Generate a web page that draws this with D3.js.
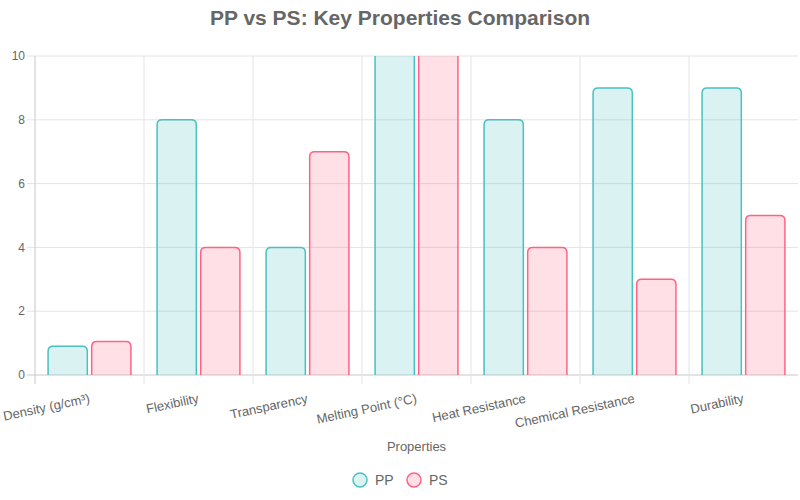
<!DOCTYPE html>
<html lang="en">
<head>
<meta charset="utf-8">
<title>PP vs PS: Key Properties Comparison</title>
<style>
  body { margin: 0; background: #fff; font-family: Arial, "Liberation Sans", Helvetica, sans-serif; }
  svg text { fill: #666; }
</style>
</head>
<body>
<svg id="chart" width="800" height="500"></svg>
<script src="https://cdnjs.cloudflare.com/ajax/libs/d3/7.8.5/d3.min.js"></script>
<script>
// data (melting point bars run past the axis max and are clipped)
var categories = ["Density (g/cm\u00b3)", "Flexibility", "Transparency", "Melting Point (\u00b0C)",
                  "Heat Resistance", "Chemical Resistance", "Durability"];
var seriesNames = ["PP", "PS"];
var ppValues = [0.9, 8, 4, 160, 8, 9, 9];
var psValues = [1.05, 4, 7, 240, 4, 3, 5];
var yTicks = [0, 2, 4, 6, 8, 10];

var colors = {
  PP: { fill: "rgba(75,192,192,0.2)", stroke: "rgb(75,192,192)" },
  PS: { fill: "rgba(255,99,132,0.2)", stroke: "rgb(255,99,132)" }
};

var w = 800, h = 500;
var padLeft = 35, padRight = 798, padTop = 56, padBottom = 375;

var svg = d3.select("#chart");

var x = d3.scaleBand().domain(categories).range([padLeft, padRight]).paddingInner(0).paddingOuter(0);
var x1 = d3.scaleBand().domain(seriesNames).range([0, x.bandwidth()]).paddingInner(0.1).paddingOuter(0.3);
var y = d3.scaleLinear().domain([0, 10]).range([padBottom, padTop]);

// grid
var grid = svg.append("g");
grid.selectAll("line.h").data(yTicks).enter().append("line")
  .attr("x1", padLeft - 8).attr("x2", padRight)
  .attr("y1", function(d) { return y(d); }).attr("y2", function(d) { return y(d); })
  .attr("stroke", function(d) { return d === 0 ? "#c8c8c8" : "#e4e4e4"; })
  .attr("stroke-width", 1);
grid.selectAll("line.v").data(categories).enter().append("line")
  .attr("x1", function(d) { return x(d); }).attr("x2", function(d) { return x(d); })
  .attr("y1", padTop).attr("y2", padBottom + 9)
  .attr("stroke", function(d, i) { return i === 0 ? "#c8c8c8" : "#e4e4e4"; })
  .attr("stroke-width", 1);

// bars
svg.append("clipPath").attr("id", "plotClip")
  .append("rect").attr("x", padLeft).attr("y", padTop).attr("width", padRight - padLeft).attr("height", padBottom - padTop);

var rows = categories.map(function(c, i) {
  return { cat: c, vals: [{ s: "PP", v: ppValues[i] }, { s: "PS", v: psValues[i] }] };
});

var r = 5;
function barPath(x0, x1p, y0, yb) {
  var rr = Math.min(r, (yb - y0) / 2, (x1p - x0) / 2);
  return "M" + x0 + "," + yb + "V" + (y0 + rr) + "Q" + x0 + "," + y0 + " " + (x0 + rr) + "," + y0 +
    "H" + (x1p - rr) + "Q" + x1p + "," + y0 + " " + x1p + "," + (y0 + rr) + "V" + yb;
}

var barG = svg.append("g").attr("clip-path", "url(#plotClip)");
barG.selectAll("g").data(rows).enter().append("g")
  .attr("transform", function(d) { return "translate(" + x(d.cat) + ",0)"; })
  .selectAll("path").data(function(d) { return d.vals; }).enter().append("path")
  .attr("d", function(d) {
    var bx = x1(d.s), bw = x1.bandwidth();
    return barPath(bx, bx + bw, y(d.v), padBottom);
  })
  .attr("fill", function(d) { return colors[d.s].fill; })
  .attr("stroke", function(d) { return colors[d.s].stroke; })
  .attr("stroke-width", 1.5);

// y axis labels
svg.append("g").selectAll("text").data(yTicks).enter().append("text")
  .attr("x", padLeft - 10).attr("y", function(d) { return y(d); })
  .attr("dy", "0.35em").attr("text-anchor", "end")
  .style("font-size", "12px")
  .text(function(d) { return d; });

// x axis labels, rotated
svg.append("g").selectAll("text").data(categories).enter().append("text")
  .attr("transform", function(d) {
    return "translate(" + (x(d) + x.bandwidth() / 2) + "," + (padBottom + 23) + ") rotate(-12)";
  })
  .attr("text-anchor", "end").attr("dy", "0.35em")
  .style("font-size", "13px")
  .text(function(d) { return d; });

// axis title
svg.append("text").attr("x", (padLeft + padRight) / 2).attr("y", 446)
  .attr("text-anchor", "middle").attr("dy", "0.35em")
  .style("font-size", "13px").text("Properties");

// title
svg.append("text").attr("x", w / 2).attr("y", 18)
  .attr("text-anchor", "middle").attr("dy", "0.35em")
  .style("font-size", "21px").style("font-weight", "bold")
  .text("PP vs PS: Key Properties Comparison");

// legend
var legend = svg.append("g");
var legendX = [360, 414];
seriesNames.forEach(function(s, i) {
  legend.append("circle").attr("cx", legendX[i]).attr("cy", 480).attr("r", 7)
    .attr("fill", colors[s].fill).attr("stroke", colors[s].stroke).attr("stroke-width", 1.5);
  legend.append("text").attr("x", legendX[i] + 15).attr("y", 480).attr("dy", "0.35em")
    .style("font-size", "14px").text(s);
});
</script>
</body>
</html>
